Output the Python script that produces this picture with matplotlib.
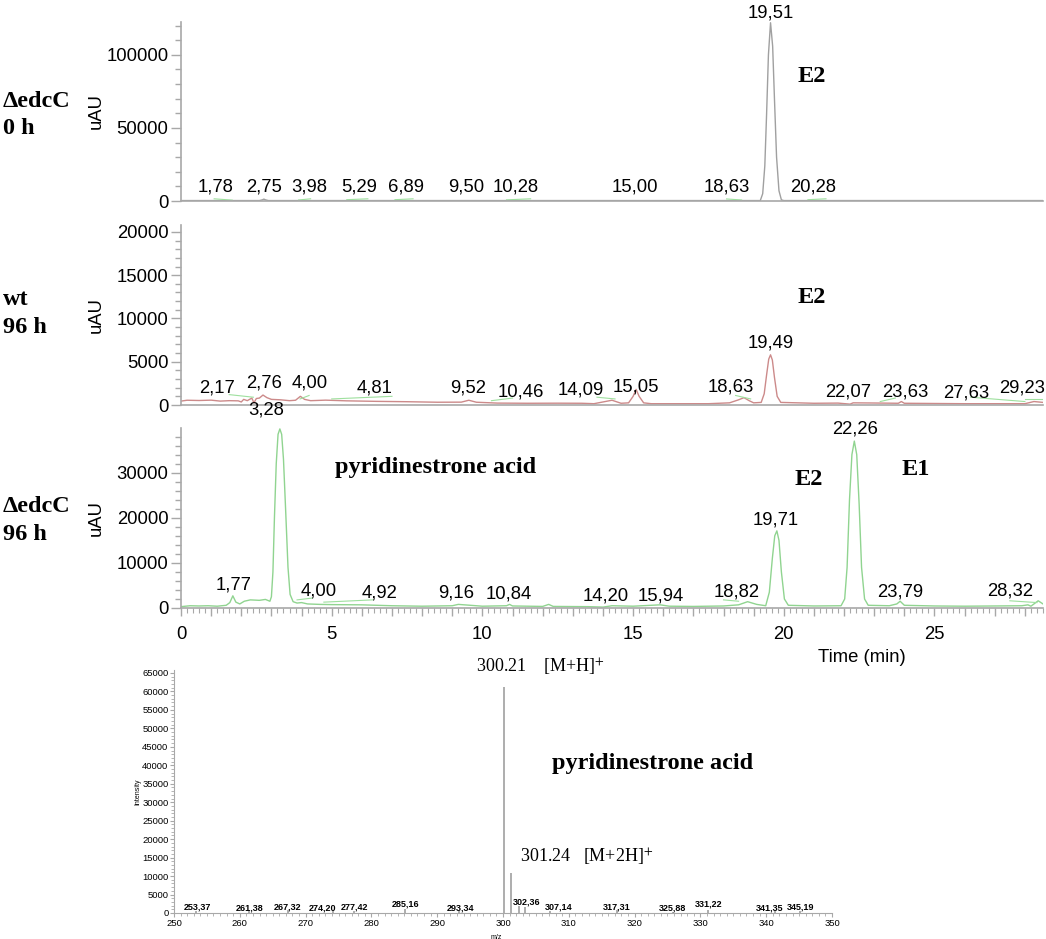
import matplotlib
matplotlib.use("Agg")
import matplotlib.pyplot as plt
from matplotlib.ticker import MultipleLocator, FuncFormatter

plt.rcParams['font.family'] = ['Liberation Sans', 'DejaVu Sans']
plt.rcParams['mathtext.fontset'] = 'stix'

SANS = ['Liberation Sans', 'DejaVu Sans']
SERIF = ['Liberation Serif', 'DejaVu Serif']
AXIS_GRAY = '#a8a8a8'

# ---- chromatogram 1: delta edcC, 0 h (grey trace)
t_0h = [0.0, 0.5, 1.0, 1.5, 2.0, 2.6, 2.7, 2.75, 2.8, 2.9, 4.0, 6.0, 8.0, 10.0,
        12.0, 14.0, 16.0, 18.0, 19.22, 19.3, 19.37, 19.43, 19.49, 19.56, 19.63,
        19.69, 19.76, 19.84, 19.92, 20.0, 21.0, 24.0, 28.6]
y_0h = [300, 300, 300, 300, 300, 300, 800, 1300, 800, 300, 300, 300, 300, 300,
        300, 300, 300, 300, 300, 5000, 24000, 60000, 100000, 122000, 106000,
        70000, 30000, 7000, 800, 300, 300, 300, 300]
lab_0h = ['1,78', '2,75', '3,98', '5,29', '6,89', '9,50', '10,28', '15,00',
          '18,63', '19,51', '20,28']
lab_0h_t = [1.16, 2.75, 4.27, 5.9, 7.48, 9.47, 11.1, 15.07, 18.1, 19.57, 20.96]
lab_0h_y = [9600, 9600, 9600, 9600, 9600, 9600, 9600, 9600, 9600, 129000, 9600]
# integration baselines (t0, t1, y0, y1)
seg_0h = [(1.1, 1.7, 1500, 600), (3.9, 4.3, 700, 1500), (5.5, 6.2, 900, 1500),
          (7.1, 7.7, 900, 1500), (10.8, 11.6, 800, 1500), (18.1, 18.6, 1400, 700),
          (20.8, 21.4, 900, 1500)]

# ---- chromatogram 2: wt, 96 h (rose trace)
t_wt = [0.0, 0.2, 0.6, 1.0, 1.3, 1.6, 1.9, 2.0, 2.08, 2.2, 2.35, 2.42, 2.5, 2.6,
        2.72, 2.85, 3.0, 3.3, 3.6, 3.8, 3.96, 4.1, 4.3, 4.8, 5.5, 6.5, 7.5, 8.5,
        9.3, 9.55, 9.8, 10.5, 11.5, 12.5, 13.3, 13.7, 14.0, 14.3, 14.6, 14.85,
        15.0, 15.1, 15.2, 15.35, 15.6, 16.5, 17.5, 18.2, 18.5, 18.68, 18.85,
        19.0, 19.25, 19.35, 19.43, 19.5, 19.56, 19.62, 19.69, 19.78, 19.9,
        21.0, 21.8, 22.2, 22.3, 23.0, 23.8, 23.9, 24.0, 26.0, 28.0, 28.3, 28.6]
y_wt = [450, 550, 520, 560, 450, 500, 480, 350, 650, 500, 800, 250, 750, 800,
        1150, 850, 650, 600, 500, 550, 1000, 650, 500, 560, 480, 420, 380, 320,
        330, 550, 320, 220, 200, 210, 200, 150, 350, 550, 200, 250,
        1000, 1800, 1000, 250, 150, 150, 150, 250, 600, 850, 500,
        250, 300, 1300, 3500, 5300, 5800, 5200, 3200, 1000, 300,
        200, 220, 100, 250, 230, 200, 400, 200, 150, 150, 400, 300]
lab_wt = ['2,17', '2,76', '4,00', '4,81', '9,52', '10,46', '14,09', '15,05',
          '18,63', '19,49', '22,07', '23,63', '27,63', '29,23']
lab_wt_t = [1.2, 2.75, 4.27, 6.42, 9.54, 11.26, 13.25, 15.1, 18.25, 19.57,
            22.15, 24.04, 26.06, 27.9]
lab_wt_y = [1965, 2540, 2540, 1965, 1965, 1500, 1700, 2080, 2080, 7170,
            1500, 1500, 1390, 1965]
seg_wt = [(1.6, 2.4, 1200, 900), (3.95, 4.25, 700, 1100), (5.0, 7.0, 700, 1000),
          (10.3, 11.0, 500, 800), (13.8, 14.4, 900, 700), (18.4, 18.9, 1100, 700),
          (23.2, 23.7, 400, 800), (26.2, 28.0, 900, 400), (28.0, 28.6, 700, 700)]

# ---- chromatogram 3: delta edcC, 96 h (green trace)
t_96h = [0.0, 0.3, 0.6, 0.9, 1.2, 1.5, 1.62, 1.72, 1.82, 1.95, 2.1, 2.3, 2.6,
         2.8, 2.95, 3.0, 3.05, 3.1, 3.16, 3.22, 3.28, 3.34, 3.4, 3.47, 3.55, 3.62,
         3.72, 3.85, 4.0, 4.2, 4.6, 5.0, 6.0, 7.0, 8.0, 9.0, 9.2, 9.6, 10.0, 10.8,
         10.9, 11.0, 12.0, 12.2, 12.35, 13.5, 14.0, 14.3, 15.0, 15.9, 16.2, 17.0,
         18.0, 18.5, 18.8, 19.1, 19.4, 19.52, 19.62, 19.7, 19.77, 19.84, 19.92,
         20.02, 20.15, 21.0, 21.9, 22.02, 22.1, 22.18, 22.26, 22.34, 22.42,
         22.5, 22.58, 22.68, 22.8, 23.5, 23.75, 23.86, 24.0, 25.0, 26.0, 27.0,
         27.9, 28.1, 28.2, 28.44, 28.6]
y_96h = [300, 500, 450, 500, 400, 600, 1200, 2700, 1300, 900, 1500, 1800, 1700,
         1900, 1500, 2500, 8000, 20000, 32000, 38500, 39700, 38500, 33000, 22000,
         9000, 3000, 1400, 1100, 1200, 900, 800, 750, 700, 500, 400, 500, 800,
         600, 400, 500, 800, 450, 350, 800, 350, 300, 200, 500, 400, 700, 400,
         350, 450, 700, 1400, 800, 500, 3500, 11000, 16000, 17100, 15000, 8000,
         2000, 600, 450, 500, 2000, 9000, 24000, 34000, 37000, 34000, 23000,
         9000, 2000, 600, 500, 900, 1500, 600, 450, 400, 450, 500, 700, 400,
         1600, 900]
lab_96h = ['1,77', '3,28', '4,00', '4,92', '9,16', '10,84', '14,20', '15,94',
           '18,82', '19,71', '22,26', '23,79', '28,32']
lab_96h_t = [1.76, 2.81, 4.57, 6.59, 9.14, 10.86, 14.1, 15.93, 18.44, 19.74,
             22.35, 23.87, 27.5]
lab_96h_y = [5100, 44000, 3770, 3330, 3330, 3100, 2660, 2660, 3550, 19500,
             39700, 3550, 3770]
seg_96h = [(3.85, 4.35, 1800, 2200), (4.74, 6.36, 1300, 1800),
           (18.0, 18.5, 1800, 1500), (27.5, 28.4, 1600, 1200)]

# ---- mass spectrum
ms_mz = [253.37, 261.38, 267.32, 274.20, 277.42, 285.16, 293.34, 300.21, 301.24,
         302.36, 303.30, 307.14, 317.31, 325.88, 331.22, 341.35, 345.19]
ms_int = [600, 500, 700, 500, 600, 1200, 500, 61200, 10800, 1800, 1500, 500, 700,
          400, 900, 500, 600]
ms_lab = ['253,37', '261,38', '267,32', '274,20', '277,42', '285,16', '293,34',
          '302,36', '307,14', '317,31', '325,88', '331,22', '341,35', '345,19']
ms_lab_x = [253.5, 261.5, 267.3, 272.6, 277.5, 285.2, 293.5, 303.6, 308.4,
            317.3, 325.8, 331.2, 340.5, 345.2]
ms_lab_y = [1600, 1300, 1600, 1300, 1600, 2400, 1300, 3000, 1600, 1600, 1300,
            2400, 1300, 1600]


def style_chrom(ax, ymax, major, minor):
    ax.set_xlim(0, 28.6)
    ax.set_ylim(0, ymax)
    for s in ['top', 'right']:
        ax.spines[s].set_visible(False)
    for s in ['left', 'bottom']:
        ax.spines[s].set_color(AXIS_GRAY)
        ax.spines[s].set_linewidth(1.2)
    ax.yaxis.set_major_locator(MultipleLocator(major))
    ax.yaxis.set_minor_locator(MultipleLocator(minor))
    ax.yaxis.set_major_formatter(FuncFormatter(lambda v, p: '%d' % v))
    ax.tick_params(axis='y', which='major', length=7, width=1, color=AXIS_GRAY,
                   labelsize=13.3, pad=2)
    ax.tick_params(axis='y', which='minor', length=4.5, width=1, color=AXIS_GRAY)
    ax.set_ylabel('uAU', fontsize=13.3)
    ax.yaxis.set_label_coords(-0.089, 0.5)


def draw_chrom(ax, t, y, color, labels, lab_t, lab_y, segs):
    ax.plot(t, y, color=color, lw=1.0)
    for t0, t1, y0, y1 in segs:
        ax.plot([t0, t1], [y0, y1], color='#9ee09e', lw=0.8)
    for s, x, yy in zip(labels, lab_t, lab_y):
        ax.text(x, yy, s, ha='center', va='center', fontsize=13.3, clip_on=False)


fig = plt.figure(figsize=(10.46, 9.39), dpi=100)
W, H = 1046.0, 939.0


def px_axes(x0, y0, x1, y1):
    return fig.add_axes([x0 / W, 1 - y1 / H, (x1 - x0) / W, (y1 - y0) / H])


ax1 = px_axes(181, 22, 1043, 201)
ax2 = px_axes(181, 225, 1043, 405)
ax3 = px_axes(181, 428, 1043, 608)
ax4 = px_axes(174, 670, 832, 913)

style_chrom(ax1, 122500, 50000, 10000)
style_chrom(ax2, 20800, 5000, 1000)
style_chrom(ax3, 39900, 10000, 2000)
for ax in (ax1, ax2):
    ax.tick_params(axis='x', which='both', bottom=False, labelbottom=False)

draw_chrom(ax1, t_0h, y_0h, '#a0a0a0', lab_0h, lab_0h_t, lab_0h_y, seg_0h)
draw_chrom(ax2, t_wt, y_wt, '#cc8a8a', lab_wt, lab_wt_t, lab_wt_y, seg_wt)
draw_chrom(ax3, t_96h, y_96h, '#90d490', lab_96h, lab_96h_t, lab_96h_y, seg_96h)

ax3.xaxis.set_major_locator(MultipleLocator(1))
ax3.xaxis.set_minor_locator(MultipleLocator(0.2))
ax3.xaxis.set_major_formatter(FuncFormatter(
    lambda v, p: '%d' % v if abs(v % 5) < 1e-6 else ''))
ax3.tick_params(axis='x', which='major', length=6, width=1, color=AXIS_GRAY,
                labelsize=13.3, pad=7)
ax3.tick_params(axis='x', which='minor', length=3.5, width=0.8, color=AXIS_GRAY)
ax3.set_xlabel('Time (min)', fontsize=13.3)
ax3.xaxis.set_label_coords(0.79, -0.23)

# compound annotations
bold_serif = dict(family=SERIF, fontweight='bold', fontsize=17.5)
ax1.text(20.93, 84900, 'E2', ha='center', va='center', **bold_serif)
ax2.text(20.93, 12370, 'E2', ha='center', va='center', **bold_serif)
ax3.text(5.1, 31100, 'pyridinestrone acid', ha='left', va='center', **bold_serif)
ax3.text(20.83, 28400, 'E2', ha='center', va='center', **bold_serif)
ax3.text(24.37, 30700, 'E1', ha='center', va='center', **bold_serif)

# sample names on the left
fig.text(3 / W, 1 - 107 / H, '\u0394edcC', **bold_serif)
fig.text(3 / W, 1 - 134 / H, '0 h', **bold_serif)
fig.text(3 / W, 1 - 305 / H, 'wt', **bold_serif)
fig.text(3 / W, 1 - 333 / H, '96 h', **bold_serif)
fig.text(3 / W, 1 - 512 / H, '\u0394edcC', **bold_serif)
fig.text(3 / W, 1 - 540 / H, '96 h', **bold_serif)

# ---- mass spectrum panel
ax4.vlines(ms_mz, 0, ms_int, color='#a0a0a0', lw=1.2)
ax4.set_xlim(250, 350)
ax4.set_ylim(0, 65800)
for s in ['top', 'right']:
    ax4.spines[s].set_visible(False)
for s in ['left', 'bottom']:
    ax4.spines[s].set_color(AXIS_GRAY)
ax4.xaxis.set_major_locator(MultipleLocator(10))
ax4.xaxis.set_minor_locator(MultipleLocator(1))
ax4.yaxis.set_major_locator(MultipleLocator(5000))
ax4.yaxis.set_minor_locator(MultipleLocator(1000))
ax4.yaxis.set_major_formatter(FuncFormatter(lambda v, p: '%d' % v))
ax4.tick_params(which='major', length=3, width=0.8, color=AXIS_GRAY,
                labelsize=6.8, pad=1)
ax4.tick_params(which='minor', length=2, width=0.6, color=AXIS_GRAY)
ax4.set_ylabel('Intensity', fontsize=5)
ax4.yaxis.set_label_coords(-0.05, 0.5)
ax4.set_xlabel('m/z', fontsize=5)
ax4.xaxis.set_label_coords(0.49, -0.085)
for s, x, yy in zip(ms_lab, ms_lab_x, ms_lab_y):
    ax4.text(x, yy, s, ha='center', va='center', fontsize=6.5, fontweight='bold')

ax4.text(295.9, 66600, '300.21    [M+H]$^{+}$', ha='left', va='center',
         family=SERIF, fontsize=13, clip_on=False)
ax4.text(302.6, 15200, '301.24   [M+2H]$^{+}$', ha='left', va='center',
         family=SERIF, fontsize=13)
ax4.text(307.4, 40600, 'pyridinestrone acid', ha='left', va='center', **bold_serif)

fig.savefig('out.png', dpi=100)
